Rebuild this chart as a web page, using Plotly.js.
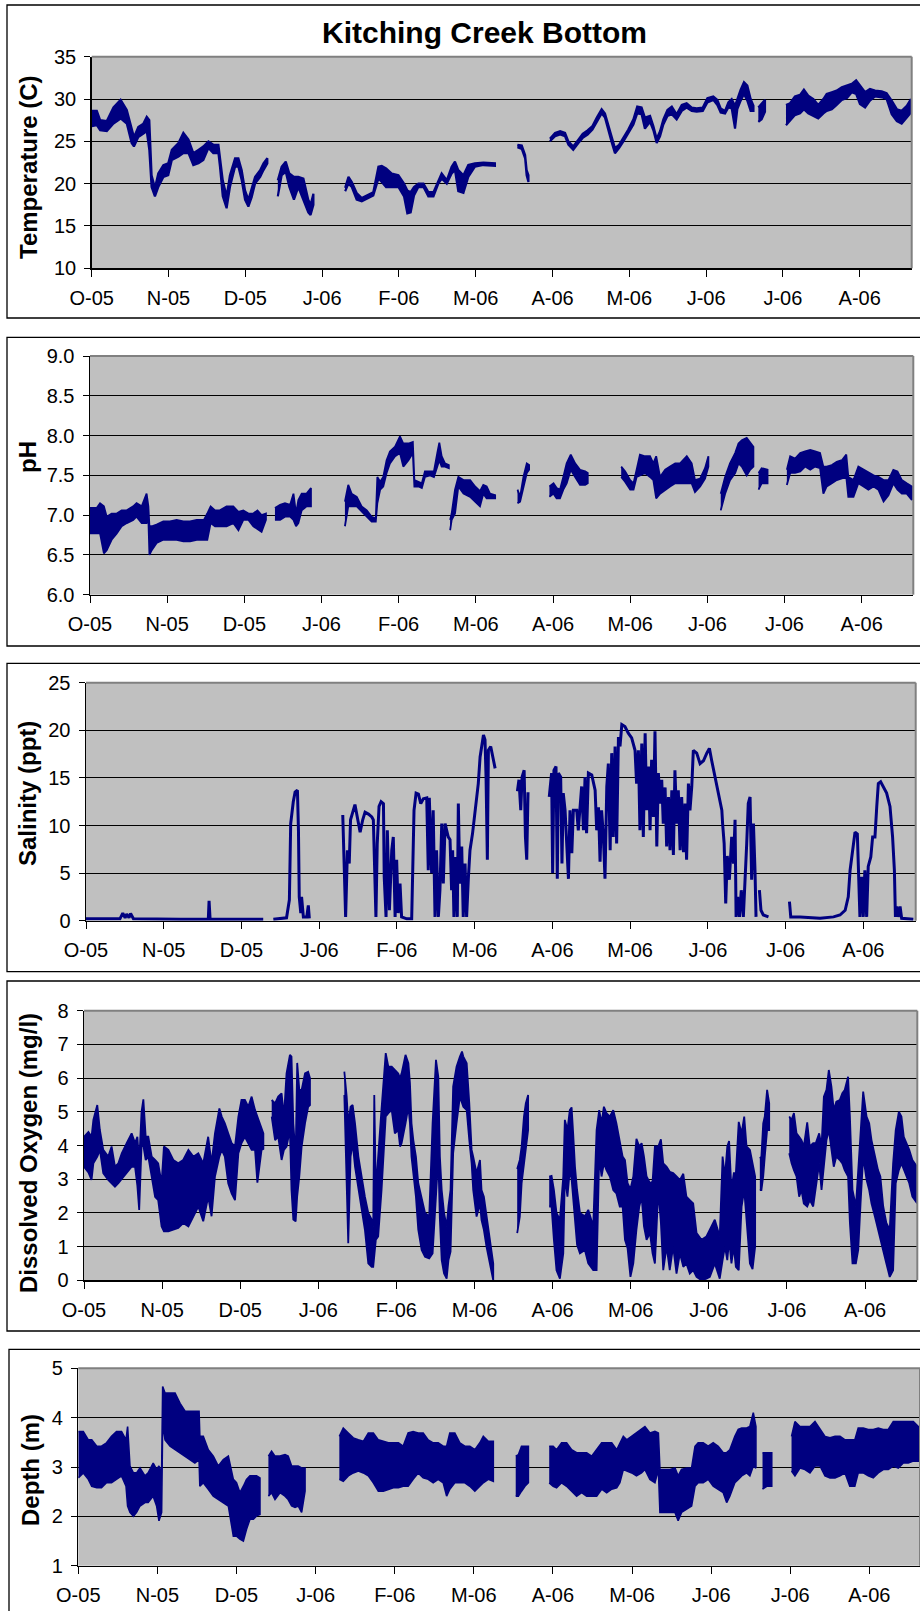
<!DOCTYPE html>
<html><head><meta charset="utf-8">
<script src="https://cdn.plot.ly/plotly-3.0.1.min.js"></script>
<style>html,body{margin:0;padding:0;background:#fff}#chart{width:920px;height:1611px}</style>
</head><body><div id="chart"></div>
<script>
// ---- shared axis labels (days counted from first tick, one tick every 30 days) ----
const tickDays = [0,30,60,90,120,150,180,210,240,270,300];
const tickText = ['O-05','N-05','D-05','J-06','F-06','M-06','A-06','M-06','J-06','J-06','A-06'];

// ---- Temperature (C): upper / lower envelope of the logger trace ----
const tempDay = [0,2,3.3,5.9,8.5,11.3,13.7,15.6,16.5,18.2,20.2,21.5,22.5,23.4,24.7,26,28,29.9,31.3,33.9,35.8,37.8,39.7,41.7,43.6,45.6,47.5,49.5,50.1,51.2,52.7,54,56,57.3,58.6,59.9,61.2,62.5,63.8,65.8,67.1,68.6,null,
 72.7,74.2,75.8,77.2,79,80.7,82.7,84.6,85.5,86.6,null,
 99,100.3,101.6,103.5,105.5,107.4,110,112,113.3,115,117.2,119.8,122,123.3,124.6,125.9,127.6,129.6,131.5,133.5,135.4,136.7,138.7,140.6,141.9,143.2,145.2,147.1,149.7,153,157.5,null,
 166.3,168,169.3,169.9,170.6,null,
 179,181,183,184.9,186.2,188.1,190.1,191.8,193.7,195.6,197.3,199.2,200.5,201.8,203.1,204.4,206,207.7,209.6,211.6,213.1,214.8,216.1,218.1,219.4,220.7,222,223.3,224.9,226.6,228.5,230.5,232.4,234.4,236.3,238.7,240.5,242.8,244.4,245.7,247.4,248.7,250,251.3,252.2,253.5,254.8,256.1,257.4,258.5,null,
 260.4,261.7,263,null,
 271.2,272.8,274.7,276.7,278.2,279.9,281.9,283.8,285.8,287.1,289.1,291,293,295,296.9,298.6,300.1,302.1,304,306,308.6,310.5,312.5,314.5,316.4,318.4,320];
const tempHi = [28.6,28.6,27.5,27.4,29.0,29.9,28.7,26.7,25.5,26.7,27.1,27.9,27.5,21.0,19.5,21.2,22.2,22.4,24.0,24.8,26.0,25.2,23.6,24.0,24.4,25.0,24.6,24.6,23.0,20.4,18.5,21.0,23.0,23.0,21.6,19.2,18.1,19.5,20.8,21.6,22.4,23.0,null,
 20.4,22.0,22.6,21.2,20.8,20.8,20.6,18.1,17.5,18.8,null,
 19.5,20.8,20.2,18.9,18.3,18.6,19.0,22.0,22.1,21.8,21.2,21.0,20.0,19.2,19.0,19.6,20.0,20.0,19.0,19.0,20.4,21.2,20.4,22.0,22.6,21.6,21.0,22.2,22.4,22.5,22.4,null,
 24.6,24.5,23.4,21.6,21.0,null,
 25.3,26.0,26.2,26.0,25.0,24.4,25.2,25.9,26.3,26.8,27.8,28.8,28.3,26.9,25.4,24.2,24.6,25.4,26.4,27.6,29.1,29.0,27.8,28.0,26.8,25.3,26.2,27.6,28.7,29.1,28.2,29.3,29.5,29.0,28.9,29.0,30.1,30.3,29.9,28.9,28.6,29.6,30.0,29.2,30.1,31.1,32.0,31.6,30.0,29.2,null,
 29.0,29.5,29.9,null,
 29.3,29.5,30.3,30.5,31.1,30.4,30.0,29.3,30.0,30.6,30.8,31.0,31.4,31.6,31.8,32.2,31.6,30.8,31.2,31.0,30.9,30.7,29.8,28.8,28.6,29.2,30.0];
const tempLo = [26.8,26.9,26.3,26.2,27.1,27.7,27.1,24.8,24.4,25.5,25.9,26.2,24.0,19.6,18.5,19.6,20.8,21.0,22.8,23.2,23.6,23.6,22.2,22.4,22.8,24.2,23.6,23.6,22.0,18.5,17.1,19.6,22.0,22.0,20.4,18.1,17.3,18.4,20.0,20.8,21.6,22.4,null,
 18.5,21.0,21.4,19.6,18.1,19.6,18.1,16.6,16.3,17.5,null,
 19.1,20.0,19.6,18.1,17.9,18.2,18.6,20.6,20.2,19.6,19.6,19.6,18.5,16.5,16.6,18.6,19.6,19.6,18.5,18.5,20.0,20.6,20.0,21.2,21.6,19.1,18.9,20.8,22.0,22.2,22.1,null,
 24.3,24.1,23.0,21.0,20.2,null,
 25.0,25.6,25.8,25.6,24.6,24.0,24.8,25.4,25.8,26.4,27.2,28.3,27.8,26.4,24.9,23.6,24.2,25.0,25.9,27.0,28.3,28.2,26.5,27.3,26.3,24.8,25.6,27.0,28.0,28.2,27.6,28.6,29.0,28.6,28.5,28.6,29.6,29.9,29.3,28.4,28.3,29.0,28.9,26.5,28.8,29.8,30.6,29.8,28.6,28.6,null,
 27.3,27.6,28.5,null,
 26.9,27.4,28.1,28.3,28.8,28.3,28.0,27.7,28.3,28.6,28.8,29.3,29.9,30.1,30.8,30.6,29.4,29.0,29.8,30.3,30.2,30.0,28.2,27.4,27.1,27.8,28.4];

// ---- pH ----
const phDay = [0,2.6,3.9,5.4,6.5,8.4,10.4,12.3,14.3,16.8,18.1,20.1,22,22.7,23.1,24,25.9,28.5,31.1,33.7,36.3,38.9,41.5,44.3,45.6,46.9,48.6,50.5,53.1,55.7,57.7,59.6,61.6,63.5,65.1,66.7,68.4,null,
 71.9,73.9,75.8,77.8,79.1,80.1,81,82.3,84.2,85.9,null,
 99.1,100.4,101.7,103.7,105.6,107.6,109.5,111.1,111.7,112.8,114,115.3,116.6,118.6,120.5,121.8,123.8,125.5,126.1,127.7,129,130.2,132.2,133.7,135,135.8,136.7,138,139.5,null,
 140,140.6,141.9,143.2,145.2,147.8,149.7,151.6,152.9,154.2,155.5,157.5,null,
 166.2,167.2,168.5,169.8,170.7,null,
 178.6,180.2,181.4,182.7,184,185.3,186.9,188.6,190.5,192.5,193.5,null,
 206.5,208,210,211.3,212.5,213.8,215.8,217.7,219,220.1,221.6,223.6,225.5,227.5,229.4,232,233.9,235.2,237.2,239.1,240.4,null,
 245.2,246.9,248.8,250.8,252.1,253.4,255.3,256.6,257.9,null,
 259.9,261.1,263.4,null,
 270.9,272.2,274.1,276.1,278,280,281.9,283.8,285.1,286.4,288.4,290.3,292.3,294,294.8,296.8,298.7,300.7,302.6,304.6,306.5,308.5,310.4,312.3,313.9,315.6,317.5,319.5];
const phHi = [7.09,7.09,7.15,7.11,6.98,7.02,7.02,7.06,7.06,7.11,7.15,7.11,7.27,7.11,6.86,6.86,6.88,6.92,6.92,6.94,6.92,6.92,6.94,6.94,7.02,7.11,7.06,7.06,7.11,7.11,7.04,7.06,7.02,7.02,7.06,7.0,7.02,null,
 7.09,7.13,7.15,7.13,7.27,7.02,7.19,7.27,7.27,7.34,null,
 7.17,7.38,7.27,7.23,7.11,7.06,6.98,6.96,7.48,7.42,7.48,7.69,7.8,7.86,7.99,7.9,7.9,7.92,7.44,7.42,7.4,7.55,7.55,7.55,7.78,7.91,7.74,7.65,7.63,null,
 6.94,7.02,7.32,7.48,7.44,7.44,7.36,7.3,7.38,7.36,7.27,7.25,null,
 7.32,7.23,7.48,7.65,7.63,null,
 7.36,7.4,7.34,7.32,7.48,7.65,7.76,7.65,7.57,7.55,7.53,null,
 7.61,7.55,7.44,7.4,7.57,7.76,7.74,7.74,7.65,7.74,7.48,7.57,7.61,7.65,7.65,7.74,7.65,7.44,7.46,7.59,7.74,null,
 7.27,7.48,7.65,7.78,7.9,7.94,7.97,7.92,7.86,null,
 7.53,7.59,7.57,null,
 7.57,7.74,7.71,7.78,7.8,7.82,7.8,7.78,7.61,7.61,7.63,7.67,7.69,7.76,7.48,7.44,7.61,7.57,7.53,7.5,7.48,7.44,7.44,7.57,7.55,7.44,7.4,7.36];
const phLo = [6.77,6.77,6.77,6.52,6.56,6.69,6.77,6.86,6.9,6.94,6.98,6.9,6.9,6.94,6.5,6.56,6.65,6.69,6.69,6.69,6.67,6.67,6.69,6.69,6.69,6.9,6.86,6.86,6.86,6.9,6.81,6.94,6.94,6.86,6.83,6.79,6.94,null,
 6.94,6.94,6.98,6.98,6.94,6.86,6.9,7.06,7.11,7.11,null,
 6.86,7.11,7.11,7.11,7.04,6.98,6.92,6.92,7.15,7.32,7.36,7.53,7.65,7.74,7.78,7.61,7.69,7.78,7.36,7.36,7.34,7.48,7.5,7.48,7.61,7.69,7.61,7.61,7.59,null,
 6.81,6.94,7.02,7.36,7.27,7.23,7.17,7.11,7.27,7.21,7.21,7.21,null,
 7.15,7.17,7.36,7.53,7.57,null,
 7.23,7.27,7.21,7.21,7.32,7.4,7.57,7.48,7.38,7.38,7.4,null,
 7.48,7.42,7.32,7.32,7.48,7.5,7.53,7.48,7.44,7.21,7.27,7.32,7.36,7.4,7.4,7.4,7.4,7.29,7.36,7.46,7.61,null,
 7.06,7.27,7.44,7.53,7.65,7.61,7.5,7.57,7.61,null,
 7.32,7.4,7.4,null,
 7.38,7.53,7.53,7.55,7.61,7.57,7.61,7.59,7.27,7.36,7.4,7.44,7.46,7.48,7.23,7.23,7.4,7.36,7.32,7.36,7.32,7.17,7.25,7.4,7.32,7.27,7.27,7.19];

// ---- Salinity (ppt): single line ----
const salDay = [0,13.1,14.2,15.1,15.7,16.6,17.2,18.3,36.3,47.2,47.5,47.9,68.4,null,
 72.3,77.4,78.5,79,80,80.7,81.6,82,82.3,82.9,83.2,83.9,85.2,85.8,86.2,null,
 99.1,99.6,100.2,100.9,101.6,102.1,103.2,103.8,104.7,105.8,
 106.8,107.7,109,110.3,110.9,111.4,111.9,112.4,113.1,113.9,
 114.8,115.1,115.8,116.3,117.1,118,118.6,119.3,119.9,120.5,
 121.2,121.8,123.8,125.7,126.1,126.6,127.4,128.3,129.2,130.2,
 131.5,132.1,132.5,133.4,134,134.7,135.3,136,136.6,137.3,
 137.9,138.6,139.2,139.8,140.5,141.1,141.5,142,142.7,143.3,
 143.7,144.3,145,145.6,146.3,146.9,147.6,148.2,149.2,150.1,
 150.8,151.4,152.1,152.7,153.4,154,154.4,154.9,155.3,156.2,
 157.2,157.9,null,
 166.5,167.1,167.8,168.3,169.1,169.6,170.1,170.6,null,
 178.8,179.7,180.1,180.6,181.4,181.9,182.3,183.2,183.7,184.2,
 184.9,185.5,186.2,186.8,187.5,188.1,189.4,190,190.7,191.3,
 192,192.6,193.2,193.9,195.2,196.5,197.1,197.8,198.4,199,
 199.7,200.3,201,201.6,202.3,202.9,203.5,204.2,204.8,205.5,
 206.1,206.8,208,209.3,210.6,211.9,212.5,213.2,213.8,214.5,
 215.1,215.8,216.4,217.1,217.7,218.3,219,219.6,220.3,220.9,
 221.6,222.2,222.8,223.5,224.1,224.8,225.4,226.1,226.7,227.3,
 228,228.6,229.3,229.9,230.6,231.2,231.8,232.5,233.1,233.8,
 234.4,235.7,237,238.3,239.6,240.6,241.5,242.8,244.1,245.4,
 245.7,246.3,246.9,247.5,248.3,249.2,249.9,250.5,250.9,251.5,
 252.2,252.9,253.7,254.4,255,255.6,256.3,256.9,257.6,258.2,
 258.6,null,
 259.9,260.5,261.4,263.4,null,
 271.5,272,275.6,283.3,288.5,291,293,294.2,294.9,295.9,296.8,297.7,298.2,298.7,299.4,300,300.6,301.3,301.9,302.9,303.6,304.5,305.2,305.8,306.7,307.7,309,310.3,311.3,312,312.4,312.9,313.5,314.2,314.8,319.3];
const salVal = [0.2,0.2,0.8,0.3,0.7,0.3,0.75,0.2,0.15,0.15,2.1,0.15,0.15,null,
 0.15,0.3,2.2,10.2,12.5,13.5,13.7,9.5,2.5,0.8,2.5,0.4,0.4,1.6,0.25,null,
 11.1,4.6,0.4,7.4,6.0,10.6,11.8,12.2,10.9,9.3,
 10.6,11.4,11.2,10.9,10.6,4.8,0.4,8.1,12.0,12.5,
 12.3,4.6,0.4,9.5,1.1,7.4,8.8,0.4,6.4,0.8,
 3.9,0.4,0.2,0.2,7.1,11.6,13.4,13.3,12.3,12.8,
 12.9,5.3,12.9,5.0,11.6,0.4,7.4,0.4,3.2,10.2,
 3.9,10.2,9.5,8.8,8.5,3.2,7.4,0.4,6.7,0.4,
 12.3,3.9,7.8,0.4,6.0,0.4,4.6,7.4,9.2,11.3,
 12.7,14.4,17.2,18.1,19.5,19.0,15.1,6.4,17.9,18.3,
 16.9,16.0,null,
 13.6,14.8,11.6,15.1,15.8,8.8,6.4,13.5,null,
 13.0,15.5,5.0,15.8,16.2,4.4,15.5,15.1,6.0,13.4,
 11.6,7.4,4.4,11.6,7.1,11.6,11.6,9.5,11.9,14.1,
 9.5,15.1,9.2,15.5,15.3,13.7,9.5,11.9,6.2,11.6,
 8.8,4.4,14.1,16.5,7.4,17.6,8.8,18.3,8.1,19.3,
 18.3,20.6,20.4,19.7,19.2,17.9,14.4,17.9,9.5,18.6,
 8.8,19.7,11.6,16.2,9.5,16.9,10.9,19.9,7.8,15.5,
 12.3,14.8,10.2,14.0,7.8,13.0,7.4,13.7,6.9,15.8,
 10.2,13.7,7.4,13.0,7.2,12.3,6.4,14.4,11.6,14.1,
 17.9,17.6,16.5,16.8,17.6,18.1,16.8,15.1,13.4,11.6,
 10.2,8.1,1.8,6.8,4.3,8.8,6.0,10.6,0.4,2.5,
 0.4,3.2,0.4,5.7,8.1,12.3,13.0,4.3,10.2,5.3,
 0.4,null,
 3.2,1.1,0.6,0.4,null,
 2.0,0.4,0.4,0.25,0.4,0.6,1.1,2.5,5.3,7.4,9.3,9.1,5.7,0.4,4.6,0.4,5.3,0.4,5.7,6.7,8.8,8.8,12.0,14.4,14.6,14.1,13.4,12.0,8.8,5.3,0.4,1.5,0.4,1.5,0.25,0.15];

// ---- Dissolved Oxygen (mg/l): upper / lower envelope ----
const doDay = [0,1.7,2.9,3.6,5.1,6.1,7.4,9.3,10.6,11.9,13.2,14.5,16.4,18.3,19.6,20.5,21.2,22.1,22.8,23.7,24.7,26,27.3,28.5,29.8,30.7,32.4,34.3,36.2,38.1,40.1,42,43.9,45.8,47.7,49,50.3,52,52.9,54.1,55.4,56.7,58,59.3,60.5,61.8,63.1,64.4,65.7,66.6,68.2,68.9,null,
 72.1,73.4,74.6,75.9,76.8,77.8,79.1,79.7,80.4,81.3,81.9,82.7,83.6,84.9,86.1,86.8,null,
 100,100.9,101.5,102.4,103.2,104.1,105.4,106.6,107.9,109.2,110.5,111.1,111.5,112.1,113,114.3,115.9,116.9,118.2,119.4,120.7,121.4,122,123.5,124.6,125.2,125.8,126.5,127.5,128.4,129.7,131,132.6,133.9,135.2,136.1,136.7,137.4,138.3,139.3,140,140.8,141.8,143.1,144.4,145.2,145.7,147,148,148.9,149.5,150.8,152.1,152.7,153.6,154.6,155.9,157.2,null,
 166.4,167.4,168.1,169,169.7,170.6,null,
 178.7,179.6,180.5,181.5,182.8,184.1,184.7,185.7,186.6,187.3,187.9,188.6,189.4,190.5,192.4,193.7,195.6,196.9,197.9,198.8,199.7,200.7,202,203.3,204.5,205.8,206.9,207.8,208.8,209.9,211,212.2,213.3,214.2,215.1,216.1,217.4,218.4,219.3,220.6,221.6,222.5,223.8,225,226.3,227.6,228.9,230.2,231.4,232.7,234,235.3,237.2,239.1,240.4,242.3,244.2,245.3,246.2,247.1,247.8,248.7,249.6,250.4,251.5,252.6,253.6,254.5,255.8,256.8,257.8,null,
 259.6,260.2,260.9,261.5,262.4,263.2,null,
 270.9,271.8,272.7,273.7,274.7,275.6,276.5,277.8,278.8,280.1,281.1,282.4,283.3,284.2,285.2,286.1,287.1,288,289,290.3,291.3,292.2,293.5,294.2,295.2,296.5,297.4,298.3,299.3,300.6,301.6,302.5,303.8,305,305.9,307,308.2,309.5,310.8,311.8,313,314,314.9,315.9,317,318.2,320];
const doHi = [4.26,4.4,4.26,4.76,5.2,4.46,3.87,3.67,3.97,3.37,3.47,3.77,4.07,4.36,4.07,4.26,3.5,5.0,5.37,4.26,4.26,3.67,3.57,3.47,2.88,3.97,3.87,3.57,3.47,3.57,3.87,3.67,3.77,3.47,4.26,3.47,4.36,5.1,4.86,4.66,4.36,4.07,3.97,4.86,5.35,5.35,5.15,5.45,5.05,4.86,4.46,4.36,null,
 5.35,5.25,5.45,5.55,4.86,6.14,6.69,6.64,4.66,3.67,6.45,5.65,5.65,6.14,6.19,6.0,null,
 6.19,5.45,4.66,5.15,5.2,4.66,3.67,3.08,2.48,2.0,1.8,1.6,5.5,2.68,3.57,5.1,6.74,6.34,6.34,6.24,6.14,6.0,6.14,6.69,6.44,5.85,4.66,4.16,3.67,2.88,2.48,2.0,1.9,4.66,6.54,6.04,3.67,2.68,2.0,1.6,2.2,2.68,5.75,6.34,6.64,6.79,6.64,6.44,5.25,3.87,3.67,3.18,3.57,2.68,2.48,1.9,1.2,0.5,null,
 3.3,3.57,3.97,4.86,5.25,5.5,null,
 3.08,3.1,2.68,2.0,1.8,3.08,4.76,4.46,5.05,5.13,4.36,3.37,2.68,2.0,1.9,2.09,1.6,4.46,5.05,4.66,5.15,4.96,4.86,5.05,4.66,4.16,3.67,3.57,2.88,2.7,3.08,4.2,3.97,4.07,3.67,3.08,2.88,2.93,3.97,3.97,4.18,3.47,3.37,3.22,3.18,3.08,2.98,3.16,2.48,2.38,2.28,1.4,1.2,1.3,1.5,1.8,1.3,3.67,3.08,3.97,4.13,2.68,3.18,3.18,4.7,4.36,4.86,3.97,3.87,3.47,3.08,null,
 3.62,3.67,4.66,4.86,5.65,5.25,null,
 4.86,4.76,4.96,4.36,4.26,4.16,3.97,4.69,3.97,4.07,4.07,4.36,3.97,5.45,5.65,6.24,5.75,5.05,5.3,5.35,5.55,5.65,6.04,4.86,2.68,2.19,3.27,4.46,5.6,4.86,4.66,4.16,3.67,3.27,3.08,2.19,1.7,1.5,3.47,4.46,5.0,4.86,4.26,4.07,3.87,3.57,3.37];
const doLo = [3.37,3.2,2.98,3.47,3.67,3.87,3.18,2.98,2.88,2.78,2.88,2.98,3.18,3.37,3.37,2.8,2.09,3.97,4.0,3.57,3.67,3.08,2.48,2.38,1.6,1.45,1.45,1.5,1.55,1.7,1.6,1.9,2.19,1.75,2.48,1.9,3.08,3.67,3.87,3.67,2.88,2.58,2.38,3.77,4.07,4.26,4.07,3.87,3.87,2.9,3.87,3.9,null,
 4.86,4.16,4.26,3.57,3.87,3.97,4.46,2.68,1.8,1.75,2.5,3.08,3.97,4.66,5.15,5.2,null,
 5.5,2.68,1.1,3.67,4.07,3.37,2.68,2.19,1.5,0.5,0.4,0.4,0.6,1.2,1.3,2.68,4.86,4.96,5.05,4.36,4.46,3.97,4.07,4.66,5.15,4.66,3.67,3.18,2.48,1.5,0.9,0.7,0.65,0.8,2.5,3.67,1.8,0.6,0.2,0.05,0.6,0.85,3.77,4.66,5.45,5.3,5.15,5.05,4.16,3.47,2.68,1.89,2.28,1.79,1.5,1.0,0.5,0.0,null,
 1.4,1.89,2.88,3.47,3.87,4.46,null,
 2.19,2.19,1.2,0.3,0.05,0.8,3.08,2.48,3.27,3.0,2.38,1.79,1.05,0.8,0.9,0.5,0.3,0.3,3.67,3.08,3.47,3.27,3.08,2.68,2.58,2.19,2.19,1.2,0.95,0.1,0.5,1.5,2.19,2.48,1.6,1.2,1.4,0.8,0.5,2.68,1.7,0.3,1.0,0.3,1.0,0.2,0.8,0.4,0.5,0.2,0.3,0.1,0.0,0.05,0.1,0.5,0.05,0.6,1.0,0.6,1.2,0.5,1.0,0.4,0.3,2.19,2.68,1.7,0.5,0.33,1.0,null,
 2.68,2.68,3.08,3.67,4.46,4.46,null,
 3.77,3.47,3.27,3.08,2.48,2.68,2.28,2.19,2.38,2.19,2.68,3.47,2.68,3.27,4.16,4.46,3.97,3.37,3.67,3.57,3.47,3.27,3.08,1.7,0.5,0.5,0.9,2.28,3.67,2.98,2.68,2.28,1.89,1.5,1.2,0.9,0.5,0.1,0.3,2.88,3.27,3.47,3.27,3.08,2.88,2.48,2.29];

// ---- Depth (m): upper / lower envelope ----
const depDay = [0,1.9,3.8,5.1,7,8.8,10.7,12.6,14.5,16.4,18.1,18.7,19.6,20.9,22.1,23.4,25.3,26.5,28.4,29.7,30.6,31.6,32,32.9,34.8,36.7,38.6,40.5,42.3,44.2,45.8,46.1,47.4,49.3,51.2,53.1,55,56.9,58.8,60,61.3,62.6,63.8,65.1,66.4,67.6,68.9,null,
 72.1,73.3,74.6,76.5,78.4,79.6,80.9,82.2,83.4,84.7,86,null,
 99,100.5,102.4,104.3,106.2,108.1,110,111.9,113.8,115.7,117.6,119.5,121.4,123.2,125.1,127,128.9,130.8,132.7,134.6,136.5,138.4,139.7,140.9,142.8,144.7,146.6,148.5,150.4,152.3,153.6,155.5,157.4,null,
 165.9,166.9,168.1,169.4,170.7,null,
 178.6,180.1,181.4,183.3,185.2,187.1,189,190.9,192.8,194.7,196.6,198.5,200.4,202.3,204.2,205.4,206.7,208,209.9,211.7,213.6,214.9,216.8,218.7,220,220.6,222.5,224.4,226.3,227.5,228.8,230.7,232.6,233.9,235.1,237,238.9,240.8,242.7,244.6,245.9,247.1,249,250.3,251.6,253.5,254.7,256,257,null,
 259.5,261.1,263,null,
 270.5,271.8,273.7,275.6,277.5,279.4,281.3,283.2,285.1,287,288.9,290.8,292.6,294.5,295.8,297.7,299.6,301.5,303.4,305.3,307.2,309.1,311,312.9,314.8,316.7,318.6];
const depHi = [3.72,3.72,3.55,3.55,3.42,3.42,3.49,3.62,3.72,3.72,3.55,3.82,3.02,2.88,2.88,2.98,2.82,2.88,3.08,2.95,3.02,2.88,4.63,4.5,4.5,4.5,4.29,4.13,4.13,4.13,4.13,3.62,3.62,3.35,3.22,3.02,3.15,3.22,2.75,2.68,2.48,2.61,2.75,2.82,2.82,2.82,2.78,null,
 3.22,3.32,3.22,3.22,3.25,3.22,3.02,3.02,3.02,2.98,2.98,null,
 3.62,3.79,3.69,3.59,3.55,3.52,3.69,3.69,3.55,3.52,3.49,3.49,3.49,3.42,3.69,3.72,3.69,3.69,3.55,3.49,3.49,3.42,3.42,3.69,3.69,3.49,3.42,3.42,3.35,3.49,3.62,3.52,3.52,null,
 3.22,3.25,3.42,3.42,3.42,null,
 3.42,3.42,3.35,3.49,3.49,3.35,3.29,3.29,3.29,3.22,3.35,3.49,3.49,3.49,3.35,3.49,3.62,3.55,3.62,3.69,3.76,3.82,3.69,3.72,3.69,2.95,2.95,2.95,2.98,2.82,2.95,2.98,2.98,3.42,3.49,3.49,3.42,3.49,3.42,3.29,3.29,3.35,3.62,3.76,3.79,3.79,3.82,4.1,3.82,null,
 3.29,3.29,3.29,null,
 3.62,3.92,3.82,3.82,3.82,3.92,3.76,3.62,3.59,3.62,3.62,3.55,3.55,3.55,3.79,3.79,3.76,3.76,3.79,3.76,3.76,3.92,3.92,3.92,3.92,3.92,3.82];
const depLo = [2.78,2.88,2.75,2.61,2.58,2.58,2.68,2.68,2.75,2.82,2.61,2.21,2.08,2.0,2.08,2.21,2.28,2.28,2.41,2.21,1.91,2.08,3.9,3.55,3.42,3.35,3.29,3.22,3.15,3.08,3.15,2.61,2.68,2.55,2.41,2.34,2.28,2.21,1.6,1.6,1.54,1.5,1.74,1.94,1.94,2.01,2.04,null,
 2.41,2.48,2.34,2.48,2.41,2.34,2.21,2.18,2.21,2.08,2.51,null,
 2.75,2.71,2.82,2.88,2.92,2.88,2.82,2.68,2.51,2.51,2.55,2.58,2.58,2.61,2.61,2.75,2.88,2.78,2.75,2.68,2.75,2.68,2.41,2.55,2.68,2.68,2.68,2.61,2.51,2.61,2.68,2.75,2.71,null,
 2.41,2.41,2.51,2.61,2.68,null,
 2.68,2.61,2.58,2.68,2.61,2.51,2.41,2.48,2.41,2.41,2.41,2.55,2.48,2.55,2.58,2.68,2.95,2.92,2.88,2.82,2.88,2.95,2.75,2.68,2.95,2.08,2.08,2.08,2.08,1.91,2.08,2.14,2.21,2.61,2.68,2.68,2.75,2.61,2.55,2.48,2.28,2.41,2.68,2.75,2.82,2.88,2.82,3.02,2.98,null,
 2.55,2.61,2.61,null,
 2.92,2.82,2.98,2.95,2.88,3.02,3.02,2.82,2.78,2.78,2.82,2.88,2.61,2.61,2.88,2.88,2.82,2.78,2.88,2.95,2.95,3.02,2.98,3.08,3.08,3.12,3.12];

// ---- build closed envelope polygons, one per gap-separated segment ----
function band(day, hi, lo) {
  const x = [], y = [];
  let seg = [];
  const flush = () => {
    if (!seg.length) return;
    seg.forEach(k => { x.push(day[k]); y.push(hi[k]); });
    for (let j = seg.length - 1; j >= 0; j--) { x.push(day[seg[j]]); y.push(lo[seg[j]]); }
    x.push(null); y.push(null);
    seg = [];
  };
  for (let k = 0; k < day.length; k++) { if (day[k] === null) flush(); else seg.push(k); }
  flush();
  return {x, y};
}

const W = 920, H = 1611;
const NAVY = '#000080';
const FONT = 'Liberation Sans, Arial, Helvetica, sans-serif';

const panels = [
  {L:91.7, R:911.7, T:56.7,  B:268.3,  tick:76.8,  yr:[10,35], dt:5,   fmt:'',    title:'Temperature (C)',         tx:28, ty:167,  box:[7,5,318],        lw:2.2},
  {L:90,   R:913.3, T:356,   B:594.7,  tick:77.17, yr:[6,9],   dt:0.5, fmt:'.1f', title:'pH',                      tx:28, ty:457,  box:[7,337.3,646],    lw:1.8},
  {L:86,   R:915.7, T:682.7, B:920.7,  tick:77.73, yr:[0,25],  dt:5,   fmt:'',    title:'Salinity (ppt)',          tx:27, ty:794,  box:[7,663.3,971.7],  lw:3},
  {L:84,   R:917.3, T:1010.7,B:1280.3, tick:78.1,  yr:[0,8],   dt:1,   fmt:'',    title:'Dissolved Oxygen (mg/l)', tx:28, ty:1153, box:[7,981,1331],     lw:1.8},
  {L:78.3, R:920,   T:1368.3,B:1565.7, tick:79.1,  yr:[1,5],   dt:1,   fmt:'',    title:'Depth (m)',               tx:30, ty:1470, box:[9,1349.3,1640],  lw:1.6}
];

const series = [
  band(tempDay, tempHi, tempLo),
  band(phDay, phHi, phLo),
  null,
  band(doDay, doHi, doLo),
  band(depDay, depHi, depLo)
];

const traces = [];
const layout = {
  width: W, height: H,
  margin: {l:0, r:0, t:0, b:0},
  paper_bgcolor: '#ffffff',
  plot_bgcolor: '#C0C0C0',
  showlegend: false,
  font: {family: FONT, color: '#000', size: 20},
  shapes: [],
  annotations: [{
    text: '<b>Kitching Creek Bottom</b>', xref:'paper', yref:'paper',
    x: 484.5/W, y: 1 - 32.5/H, xanchor:'center', yanchor:'middle',
    showarrow:false, font:{family:FONT, size:30, color:'#000'}
  }]
};

panels.forEach((p, i) => {
  const s = i === 0 ? '' : String(i + 1);
  const xa = 'x' + s, ya = 'y' + s;
  if (i === 2) {
    traces.push({type:'scatter', mode:'lines', x: salDay, y: salVal, xaxis: xa, yaxis: ya,
      line:{color:NAVY, width:p.lw}, connectgaps:false, hoverinfo:'skip'});
  } else {
    traces.push({type:'scatter', mode:'lines', x: series[i].x, y: series[i].y, xaxis: xa, yaxis: ya,
      fill:'toself', fillcolor:NAVY, line:{color:NAVY, width:p.lw}, connectgaps:false, hoverinfo:'skip'});
  }
  layout['xaxis' + s] = {
    domain:[p.L/W, p.R/W], range:[0, (p.R - p.L) * 30 / p.tick], anchor: ya,
    tickmode:'array', tickvals: tickDays, ticktext: tickText,
    ticks:'outside', ticklen:7, tickwidth:1, tickcolor:'#000',
    showline:true, linecolor:'#000', linewidth:1.5, showgrid:false, zeroline:false,
    tickfont:{family:FONT, size:20, color:'#000'}, ticklabelstandoff: 4, fixedrange:true
  };
  const yax = {
    domain:[1 - p.B/H, 1 - p.T/H], range: p.yr, anchor: xa,
    tickmode:'linear', tick0: p.yr[0], dtick: p.dt,
    ticks:'outside', ticklen:6, tickwidth:1, tickcolor:'#000',
    showline:true, linecolor:'#000', linewidth:1.5,
    showgrid:true, gridcolor:'#000', gridwidth:1, zeroline:false,
    tickfont:{family:FONT, size:20, color:'#000'}, ticklabelstandoff: 4, fixedrange:true
  };
  if (p.fmt) yax.tickformat = p.fmt;
  layout['yaxis' + s] = yax;

  // gray plot-area border (top and right)
  const dx = xa + ' domain', dy = ya + ' domain';
  layout.shapes.push({type:'line', xref:dx, yref:dy, x0:0, x1:1, y0:1, y1:1, line:{color:'#808080', width:2}, layer:'above'});
  layout.shapes.push({type:'line', xref:dx, yref:dy, x0:1, x1:1, y0:0, y1:1, line:{color:'#808080', width:2}, layer:'above'});
  // chart-area frame
  layout.shapes.push({type:'rect', xref:'paper', yref:'paper',
    x0: p.box[0]/W, x1: 930/W, y0: 1 - p.box[2]/H, y1: 1 - p.box[1]/H,
    line:{color:'#000', width:1.3}, fillcolor:'rgba(0,0,0,0)', layer:'below'});
  // y-axis title
  layout.annotations.push({text:'<b>' + p.title + '</b>', xref:'paper', yref:'paper',
    x: p.tx/W, y: 1 - p.ty/H, xanchor:'center', yanchor:'middle', textangle:-90,
    showarrow:false, font:{family:FONT, size:24, color:'#000'}});
});

Plotly.newPlot('chart', traces, layout, {displayModeBar:false, staticPlot:true});
</script>
</body></html>
